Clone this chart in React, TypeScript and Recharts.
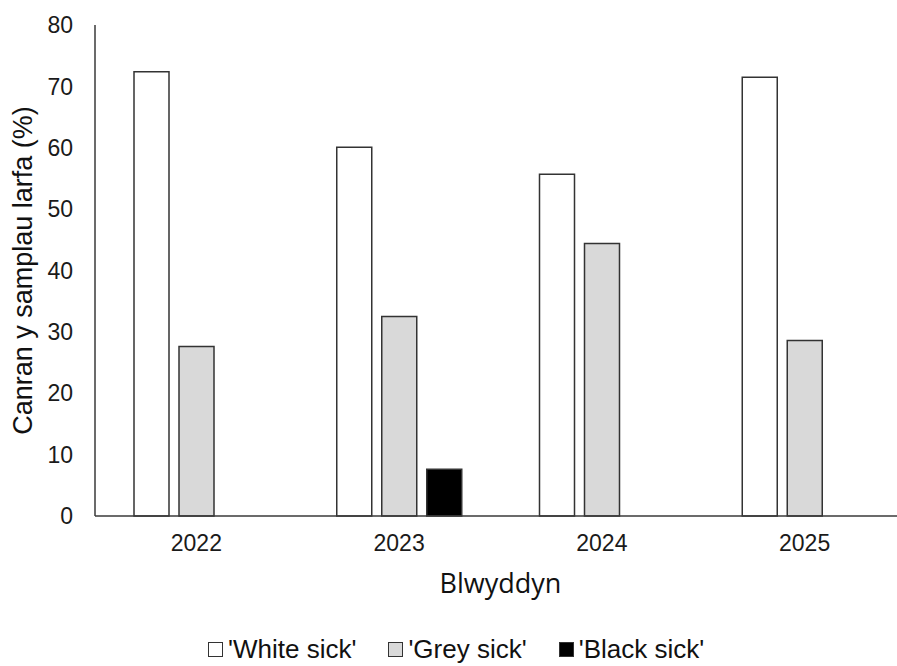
import { BarChart, Bar, XAxis, YAxis } from "recharts";

const years = ["2022", "2023", "2024", "2025"];
const whiteSick = [72.4, 60.1, 55.7, 71.5];
const greySick = [27.6, 32.5, 44.4, 28.6];
const blackSick: (number | null)[] = [null, 7.6, null, null];
const yTicks = [0, 10, 20, 30, 40, 50, 60, 70, 80];

const series = [
  { key: "white", name: "'White sick'", fill: "#ffffff" },
  { key: "grey", name: "'Grey sick'", fill: "#d9d9d9" },
  { key: "black", name: "'Black sick'", fill: "#000000" },
];

const data = years.map((year, i) => ({
  year,
  white: whiteSick[i],
  grey: greySick[i],
  black: blackSick[i],
}));

const AXIS = "#3a3a3a";
const ARIAL = "'Liberation Sans', Arial, sans-serif";

export default function App() {
  return (
    <div
      style={{
        position: "absolute",
        left: 0,
        top: 0,
        width: 897,
        height: 666,
        overflow: "hidden",
        background: "#fff",
      }}
    >
      <BarChart
        width={912}
        height={666}
        data={data}
        margin={{ top: 25, right: 6, left: 0, bottom: 0 }}
        barSize={35}
        barGap={10}
      >
        <XAxis
          dataKey="year"
          height={150}
          axisLine={{ stroke: AXIS, strokeWidth: 1.5 }}
          tickLine={false}
          tickSize={0}
          tickMargin={19}
          tick={{ fill: "#1a1a1a", fontSize: 23, fontFamily: ARIAL }}
          label={{
            value: "Blwyddyn",
            position: "insideTop",
            offset: 58,
            style: { fill: "#111", fontSize: 27, fontFamily: "'Open Sans', sans-serif" },
          }}
        />
        <YAxis
          width={95}
          domain={[0, 80]}
          ticks={yTicks}
          interval={0}
          axisLine={{ stroke: AXIS, strokeWidth: 1.5 }}
          tickLine={false}
          tickSize={0}
          tickMargin={22}
          tick={{ fill: "#1a1a1a", fontSize: 23, fontFamily: ARIAL }}
          label={{
            value: "Canran y samplau larfa (%)",
            angle: -90,
            position: "insideLeft",
            offset: 22,
            style: { textAnchor: "middle", fill: "#111", fontSize: 27, fontFamily: ARIAL },
          }}
        />
        {series.map((s) => (
          <Bar
            key={s.key}
            dataKey={s.key}
            name={s.name}
            fill={s.fill}
            stroke="#333"
            strokeWidth={1.5}
            isAnimationActive={false}
          />
        ))}
      </BarChart>
      <div
        style={{
          position: "absolute",
          left: 208,
          top: 636,
          display: "flex",
          alignItems: "center",
          gap: 32,
          fontFamily: ARIAL,
          fontSize: 26,
          lineHeight: "26px",
          color: "#111",
          whiteSpace: "nowrap",
        }}
      >
        {series.map((s) => (
          <div key={s.key} style={{ display: "flex", alignItems: "center", gap: 5 }}>
            <div
              style={{
                width: 13,
                height: 13,
                background: s.fill,
                border: "1px solid #333",
              }}
            />
            <span>{s.name}</span>
          </div>
        ))}
      </div>
    </div>
  );
}
